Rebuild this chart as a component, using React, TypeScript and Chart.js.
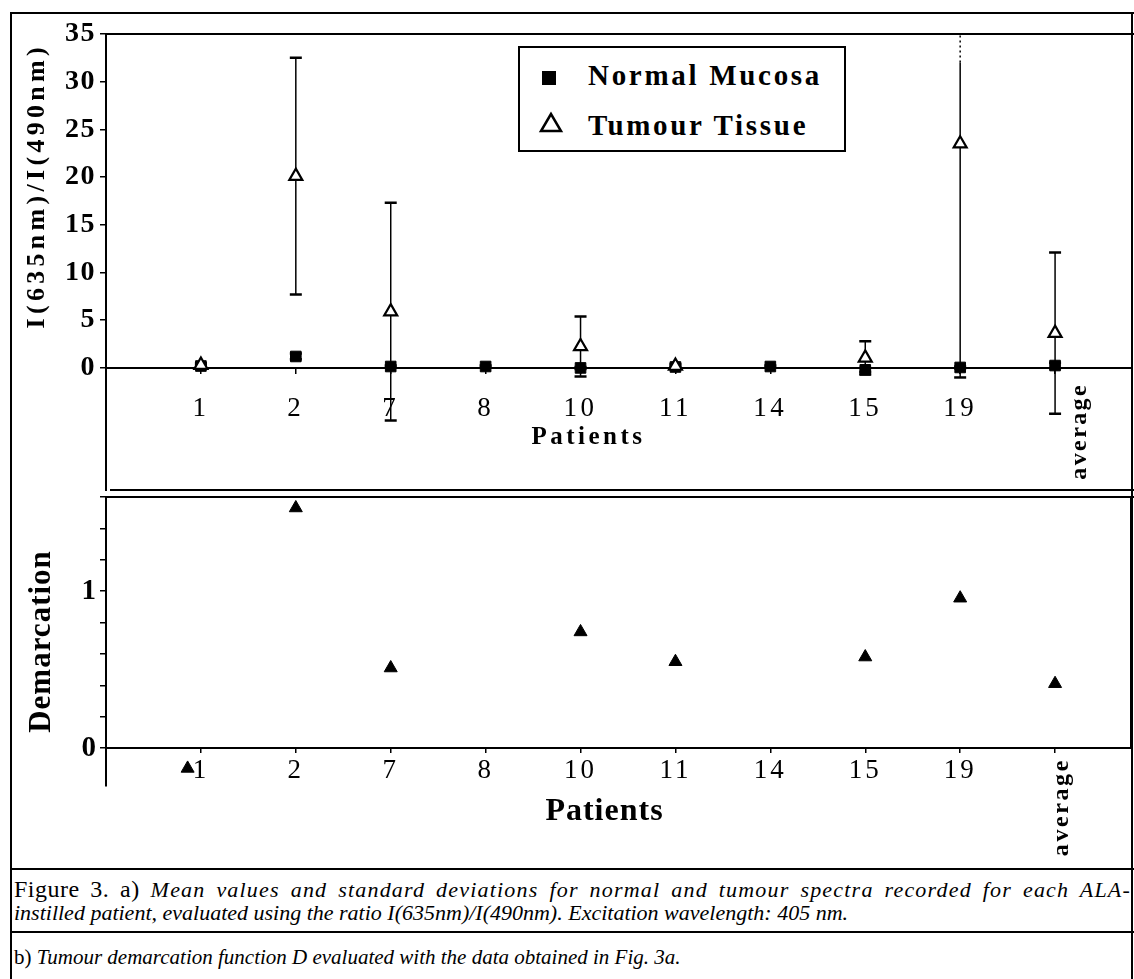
import React, { useEffect, useRef } from 'react';
import { Chart, registerables } from 'chart.js';

Chart.register(...registerables);

const SERIF = "'Liberation Serif', 'Times New Roman', Times, serif";
Chart.defaults.font.family = SERIF;
Chart.defaults.color = '#000';

// ---------------- data ----------------
const patients = ['1', '2', '7', '8', '10', '11', '14', '15', '19', 'average'];
const patientPos = [1, 2, 3, 4, 5, 6, 7, 8, 9, 10];

const normalMean = [0.2, 1.2, 0.15, 0.15, 0.0, 0.1, 0.15, -0.2, 0.05, 0.25];
const normalSD = [0.1, 0.3, 0.1, 0.1, 0.1, 0.1, 0.1, 0.2, 0.1, 0.3];
const tumourMean = [0.3, 20.1, 5.9, null, 2.25, 0.2, null, 1.05, 23.5, 3.65];
const tumourSD = [0.2, 12.4, 11.4, null, 3.15, 0.2, null, 1.75, 24.5, 8.45];

const demarcation = [-0.13, 1.53, 0.51, null, 0.74, 0.55, null, 0.58, 0.955, 0.41];
const demarcationPos = [0.86, 2, 3, 4, 5, 6, 7, 8, 9, 10];

const ratioTicks = [0, 5, 10, 15, 20, 25, 30, 35];
const demTicks = [0, 0.2, 0.4, 0.6, 0.8, 1, 1.2, 1.4, 1.6];
const demLabelled = [0, 1];

// ---------------- helpers ----------------
function patchText(scale: any, labelPx: number, titlePx: number, dx = 0, dy = 0) {
  if (scale.__patched) return;
  scale.__patched = true;
  const dl = scale.drawLabels;
  const dt = scale.drawTitle;
  scale.drawLabels = function (area: any) {
    const c = this.ctx;
    c.save();
    c.letterSpacing = labelPx + 'px';
    dl.call(this, area);
    c.restore();
  };
  scale.drawTitle = function () {
    const c = this.ctx;
    c.save();
    c.letterSpacing = titlePx + 'px';
    c.translate(dx, dy);
    dt.call(this);
    c.restore();
  };
}

const errorBarPlugin = {
  id: 'errorBars',
  beforeDatasetsDraw(chart: any, _args: any, opts: any) {
    const { ctx, chartArea: a } = chart;
    const xs = chart.scales.x;
    const ys = chart.scales.y;
    ctx.save();
    ctx.beginPath();
    ctx.rect(a.left, a.top - 1, a.right - a.left, a.bottom - a.top + 1);
    ctx.clip();
    ctx.strokeStyle = '#000';
    chart.data.datasets.forEach((ds: any) => {
      const errs = ds.errors;
      if (!errs) return;
      ds.data.forEach((p: any, i: number) => {
        const e = errs[i];
        if (p.y == null || e == null) return;
        const px = xs.getPixelForValue(p.x);
        const lo = ys.getPixelForValue(p.y - e);
        const off = p.y + e > ys.max;
        const hi = off ? ys.getPixelForValue(opts.dashFrom) : ys.getPixelForValue(p.y + e);
        ctx.lineWidth = 1.5;
        ctx.beginPath();
        ctx.moveTo(px, lo);
        ctx.lineTo(px, hi);
        ctx.stroke();
        ctx.lineWidth = 2.5;
        ctx.beginPath();
        ctx.moveTo(px - opts.cap, lo);
        ctx.lineTo(px + opts.cap, lo);
        if (!off) {
          ctx.moveTo(px - opts.cap, hi);
          ctx.lineTo(px + opts.cap, hi);
        }
        ctx.stroke();
        if (off) {
          ctx.lineWidth = 1.5;
          ctx.setLineDash([2, 3]);
          ctx.beginPath();
          ctx.moveTo(px, hi);
          ctx.lineTo(px, a.top);
          ctx.stroke();
          ctx.setLineDash([]);
        }
      });
    });
    ctx.restore();
  },
};

const framePlugin = {
  id: 'frame',
  afterDraw(chart: any, _args: any, opts: any) {
    const { ctx, chartArea: a, width } = chart;
    const ys = chart.scales.y;
    ctx.save();
    ctx.strokeStyle = '#000';
    ctx.lineWidth = 2;
    ctx.beginPath();
    if (opts.top) {
      ctx.moveTo(a.left, a.top);
      ctx.lineTo(width, a.top);
    }
    if (opts.bottom) {
      ctx.moveTo(a.left + 4, a.bottom - 1);
      ctx.lineTo(width, a.bottom - 1);
    }
    if (opts.rightToZero) {
      ctx.moveTo(a.right, a.top);
      ctx.lineTo(a.right, ys.getPixelForValue(0));
    }
    ctx.stroke();
    ctx.restore();
  },
};

const labelFor = (v: number) => {
  const i = patientPos.indexOf(v);
  const l = patients[i];
  return l === 'average' ? '' : l;
};
const avgPos = patientPos[patients.indexOf('average')];

function xAxes(o: any) {
  return {
    x: {
      type: 'linear',
      min: 0,
      max: 10.8,
      position: { y: 0 },
      afterBuildTicks: (s: any) => {
        s.ticks = patientPos.map((v) => ({ value: v }));
      },
      afterFit: (s: any) => {
        patchText(s, o.labelSpacing, o.titleSpacing, o.titleDx, 0);
        s.paddingLeft = 0;
        s.paddingRight = 0;
      },
      ticks: {
        callback: (v: number) => labelFor(v),
        font: { family: SERIF, size: o.labelSize },
        color: '#000',
        padding: o.labelPad,
        maxRotation: 0,
        minRotation: 0,
        autoSkip: false,
      },
      grid: { drawOnChartArea: false, drawTicks: true, tickLength: o.tickLen, color: '#000', lineWidth: 1.5 },
      border: { display: true, color: '#000', width: 2 },
      title: {
        display: true,
        text: 'Patients',
        color: '#000',
        font: { family: SERIF, size: o.titleSize, weight: 'bold' },
        padding: { top: o.titlePad, bottom: 0 },
      },
    },
    xAvg: {
      type: 'linear',
      min: 0,
      max: 10.8,
      position: { y: 0 },
      afterBuildTicks: (s: any) => {
        s.ticks = [{ value: avgPos }];
      },
      afterFit: (s: any) => {
        patchText(s, o.avgSpacing, 0);
        s.paddingLeft = 0;
        s.paddingRight = 0;
      },
      ticks: {
        callback: () => 'average',
        font: { family: SERIF, size: 24, weight: 'bold' },
        color: '#000',
        padding: o.avgPad,
        labelOffset: o.avgOffset,
        maxRotation: 90,
        minRotation: 90,
        autoSkip: false,
      },
      grid: { display: false, drawTicks: false },
      border: { display: false },
    },
  };
}

function topConfig(): any {
  return {
    type: 'scatter',
    data: {
      datasets: [
        {
          label: 'Tumour Tissue',
          order: 0,
          data: patientPos.map((x, i) => ({ x, y: tumourMean[i] })),
          errors: tumourSD,
          pointStyle: 'triangle',
          pointRadius: 7.5,
          backgroundColor: '#fff',
          borderColor: '#000',
          borderWidth: 2.2,
        },
        {
          label: 'Normal Mucosa',
          order: 1,
          data: patientPos.map((x, i) => ({ x, y: normalMean[i] })),
          errors: normalSD,
          pointStyle: 'rect',
          pointRadius: 7.5,
          backgroundColor: '#000',
          borderColor: '#000',
          borderWidth: 1,
        },
      ],
    },
    options: {
      animation: false,
      responsive: false,
      maintainAspectRatio: false,
      layout: { autoPadding: false, padding: { left: 0, top: 34, right: 3, bottom: 0 } },
      plugins: {
        legend: { display: false },
        tooltip: { enabled: false },
        errorBars: { cap: 6, dashFrom: 32 },
        frame: { top: true, bottom: true },
      },
      scales: {
        ...xAxes({
          labelSize: 27,
          labelSpacing: 3.5,
          labelPad: 20,
          tickLen: 5,
          titleSize: 25,
          titleSpacing: 3.5,
          titlePad: -22.5,
          titleDx: -30,
          avgSpacing: 2.4,
          avgPad: 15,
          avgOffset: 25,
        }),
        y: {
          type: 'linear',
          min: -12.9,
          max: 35,
          position: 'left',
          afterBuildTicks: (s: any) => {
            s.ticks = ratioTicks.map((v) => ({ value: v }));
          },
          afterFit: (s: any) => {
            patchText(s, 1.5, 4.3, 0, 9);
            s.width = 106;
            s.paddingTop = 0;
            s.paddingBottom = 0;
          },
          ticks: { font: { family: SERIF, size: 28, weight: 'bold' }, color: '#000', padding: 4 },
          grid: { drawOnChartArea: false, tickLength: 6, color: '#000', lineWidth: 1.5 },
          border: { color: '#000', width: 2 },
          title: {
            display: true,
            text: 'I(635nm)/I(490nm)',
            align: 'end',
            color: '#000',
            font: { family: SERIF, size: 26, weight: 'bold' },
            padding: { top: 22, bottom: 0 },
          },
        },
      },
    },
    plugins: [errorBarPlugin, framePlugin],
  };
}

function bottomConfig(): any {
  return {
    type: 'scatter',
    data: {
      datasets: [
        {
          label: 'Demarcation',
          data: demarcationPos.map((x, i) => ({ x, y: demarcation[i] })),
          pointStyle: 'triangle',
          pointRadius: 7.5,
          backgroundColor: '#000',
          borderColor: '#000',
          borderWidth: 1,
        },
      ],
    },
    options: {
      animation: false,
      responsive: false,
      maintainAspectRatio: false,
      layout: { autoPadding: false, padding: { left: 0, top: 6, right: 3, bottom: 80 } },
      plugins: {
        legend: { display: false },
        tooltip: { enabled: false },
        frame: { top: true, rightToZero: true },
      },
      scales: {
        ...xAxes({
          labelSize: 27,
          labelSpacing: 3,
          labelPad: 3,
          tickLen: 4,
          titleSize: 32,
          titleSpacing: 1,
          titlePad: 2.4,
          titleDx: -14,
          avgSpacing: 2.6,
          avgPad: 10,
          avgOffset: 7,
        }),
        y: {
          type: 'linear',
          min: -0.242,
          max: 1.6,
          position: 'left',
          afterBuildTicks: (s: any) => {
            s.ticks = demTicks.map((v) => ({ value: v }));
          },
          afterFit: (s: any) => {
            patchText(s, 0, 1);
            s.width = 106;
            s.paddingTop = 0;
            s.paddingBottom = 0;
          },
          ticks: {
            callback: (v: number) => (demLabelled.includes(v) ? String(v) : ''),
            font: { family: SERIF, size: 29, weight: 'bold' },
            color: '#000',
            padding: 4,
            autoSkip: false,
          },
          grid: { drawOnChartArea: false, tickLength: 6, color: '#000', lineWidth: 1.5 },
          border: { color: '#000', width: 2 },
          title: {
            display: true,
            text: 'Demarcation',
            color: '#000',
            font: { family: SERIF, size: 31, weight: 'bold' },
            padding: { top: 23, bottom: 0 },
          },
        },
      },
    },
    plugins: [framePlugin],
  };
}

const line = (left: number, top: number, width: number, height: number) => (
  <div style={{ position: 'absolute', left, top, width, height, background: '#000' }} />
);

export default function App() {
  const topRef = useRef<HTMLCanvasElement>(null);
  const botRef = useRef<HTMLCanvasElement>(null);

  useEffect(() => {
    const a = new Chart(topRef.current as HTMLCanvasElement, topConfig());
    const b = new Chart(botRef.current as HTMLCanvasElement, bottomConfig());
    return () => {
      a.destroy();
      b.destroy();
    };
  }, []);

  const legendText: React.CSSProperties = {
    position: 'absolute',
    left: 588,
    fontFamily: SERIF,
    fontWeight: 'bold',
    fontSize: 29,
    lineHeight: '29px',
    letterSpacing: '2.7px',
    whiteSpace: 'nowrap',
    color: '#000',
  };
  const cap: React.CSSProperties = {
    position: 'absolute',
    left: 14,
    fontFamily: SERIF,
    fontSize: 22,
    lineHeight: '23px',
    whiteSpace: 'nowrap',
    color: '#000',
  };

  return (
    <div
      style={{
        position: 'absolute',
        left: 0,
        top: 0,
        width: 1134,
        height: 979,
        background: '#fff',
        overflow: 'hidden',
      }}
    >
      {line(10, 12, 1124, 2)}
      {line(10, 12, 2, 967)}
      {line(1131, 12, 2, 967)}
      {line(10, 868, 1124, 2)}
      {line(10, 931, 1124, 2)}
      <canvas ref={topRef} width={1134} height={491} style={{ position: 'absolute', left: 0, top: 0 }} />
      <canvas ref={botRef} width={1134} height={375} style={{ position: 'absolute', left: 0, top: 491 }} />

      <div
        style={{
          position: 'absolute',
          left: 518,
          top: 46,
          width: 328,
          height: 106,
          border: '2px solid #000',
          boxSizing: 'border-box',
          background: '#fff',
        }}
      />
      <svg width={30} height={80} style={{ position: 'absolute', left: 536, top: 64 }}>
        <rect x={6} y={7} width={14} height={14} fill="#000" />
        <polygon points="15,50 5,67 25,67" fill="none" stroke="#000" strokeWidth={2.5} />
      </svg>
      <div style={{ ...legendText, top: 61 }}>Normal Mucosa</div>
      <div style={{ ...legendText, top: 111 }}>Tumour Tissue</div>

      <div
        style={{
          ...cap,
          top: 878,
          width: 1117,
          letterSpacing: '1.2px',
          textAlign: 'justify',
          textAlignLast: 'justify',
        }}
      >
        <span style={{ fontSize: 24, letterSpacing: '0.5px' }}>Figure 3. a)</span>{' '}
        <i>Mean values and standard deviations for normal and tumour spectra recorded for each ALA-</i>
      </div>
      <div style={{ ...cap, top: 901 }}>
        <i>instilled patient, evaluated using the ratio I(635nm)/I(490nm). Excitation wavelength: 405 nm.</i>
      </div>
      <div style={{ ...cap, top: 946, fontSize: 21 }}>
        b) <i>Tumour demarcation function D evaluated with the data obtained in Fig. 3a.</i>
      </div>
    </div>
  );
}
